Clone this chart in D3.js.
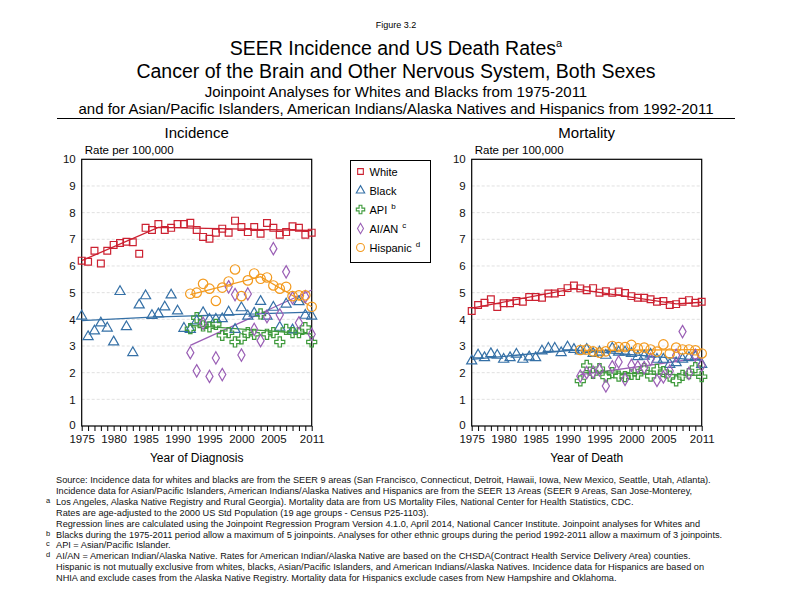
<!DOCTYPE html>
<html>
<head>
<meta charset="utf-8">
<script src="https://cdn.jsdelivr.net/npm/d3@7"></script>
<style>
  body { margin: 0; background: #fff; }
  svg { font-family: "Liberation Sans", Arial, sans-serif; }
  .foot { font-family: "Liberation Sans Narrow", "Liberation Sans", Arial, sans-serif; font-size: 9.2px; fill: #111; }
</style>
</head>
<body>
<div id="chart"></div>
<script>
// years
var years = d3.range(1975, 2012);
var years92 = d3.range(1992, 2012);
var yTicks = [0, 1, 2, 3, 4, 5, 6, 7, 8, 9, 10];
var xLabels = [1975, 1980, 1985, 1990, 1995, 2000, 2005, 2011];

// incidence (1975-2011 for white/black, 1992-2011 for others)
var whiteInc = [6.2, 6.16, 6.57, 6.09, 6.57, 6.79, 6.86, 6.91, 6.89, 6.46, 7.43, 7.35, 7.57, 7.35, 7.43, 7.57, 7.57,
  7.62, 7.35, 7.09, 7.02, 7.25, 7.4, 7.25, 7.7, 7.46, 7.27, 7.46, 7.21, 7.61, 7.43, 7.17, 7.27, 7.49, 7.43, 7.17, 7.25];
var blackInc = [4.12, 3.35, 3.56, 3.86, 3.67, 3.15, 5.04, 3.72, 2.75, 4.54, 4.88, 4.14, 4.2, 4.46, 4.91, 4.31, 3.66,
  3.62, 3.94, 4.25, 4.0, 4.0, 4.02, 4.27, 3.62, 4.43, 4.12, 4.23, 4.67, 4.12, 4.45, 3.7, 4.57, 3.6, 4.66, 4.15, 4.12];
var apiInc = [3.65, 4.06, 3.75, 3.72, 3.81, 3.4, 3.5, 3.15, 3.27, 3.5, 3.44, 4.2, 3.44, 3.5, 3.15, 3.62, 3.5, 3.5, 3.69, 3.15];
var aianInc = [2.75, 2.07, 3.85, 1.86, 2.55, 1.93, 5.22, 4.93, 2.66, 4.95, 3.62, 3.2, 4.1, 6.65, 4.17, 5.78, 4.8, 3.87, 4.85, 3.44];
var hispInc = [4.96, 5.0, 5.33, 5.15, 4.69, 5.19, 5.42, 5.87, 4.87, 5.46, 5.72, 5.52, 5.57, 5.27, 5.15, 5.22, 4.87, 4.9, 4.9, 4.47];

// mortality
var whiteMort = [4.31, 4.54, 4.62, 4.75, 4.46, 4.6, 4.6, 4.69, 4.66, 4.84, 4.84, 4.81, 4.97, 4.97, 5.02, 5.17, 5.27,
  5.16, 5.09, 5.17, 5.0, 5.05, 5.0, 5.04, 4.99, 4.87, 4.81, 4.81, 4.75, 4.66, 4.69, 4.54, 4.57, 4.66, 4.72, 4.62, 4.66];
var blackMort = [2.44, 2.66, 2.56, 2.71, 2.65, 2.5, 2.56, 2.69, 2.5, 2.59, 2.56, 2.81, 2.91, 2.91, 2.75, 2.96, 2.87,
  2.81, 2.87, 2.72, 2.77, 2.65, 2.91, 2.77, 2.77, 2.72, 2.6, 2.62, 2.69, 2.5, 2.5, 2.31, 2.37, 2.5, 2.56, 2.6, 2.31];
var apiMort = [1.69, 2.27, 1.97, 2.15, 1.84, 2.0, 1.87, 1.85, 1.94, 1.94, 2.15, 1.87, 2.12, 2.04, 1.87, 1.69, 1.9, 1.96, 2.19, 1.85];
var aianMort = [1.87, 2.0, 2.02, 2.1, 1.5, 2.22, 2.4, 1.75, 2.27, 2.22, 2.19, 2.5, 1.71, 1.84, 2.06, 2.65, 3.54, 1.97, 2.65, 2.27];
var hispMort = [2.85, 2.87, 2.8, 2.75, 2.8, 3.0, 2.96, 2.96, 3.04, 2.91, 2.94, 2.87, 2.79, 3.06, 2.72, 2.94, 2.87, 2.87, 2.84, 2.72];

// joinpoint fitted lines [year, rate]
var whiteIncFit = [[1975, 6.2], [1987, 7.45], [2011, 7.33]];
var blackIncFit = [[1975, 3.95], [1986, 4.08], [2011, 4.27]];
var apiIncFit = [[1992, 3.77], [2011, 3.45]];
var aianIncFit = [[1992, 3.02], [2011, 5.1]];
var hispIncFit = [[1992, 4.93], [2003, 5.6], [2011, 4.47]];
var whiteMortFit = [[1975, 4.42], [1991, 5.15], [2007, 4.58], [2011, 4.64]];
var blackMortFit = [[1975, 2.5], [1991, 2.85], [2011, 2.46]];
var apiMortFit = [[1992, 2.02], [2011, 1.9]];
var aianMortFit = [[1992, 1.93], [2011, 2.55]];
var hispMortFit = [[1992, 2.83], [2011, 2.86]];

var groups = ["White", "Black", "API", "AI/AN", "Hispanic"];
var supers = ["", "", "b", "c", "d"];
var colors = ["#cc2131", "#3570a6", "#3f9a3c", "#9a5fb5", "#f39a1e"];
var symbols = [d3.symbolSquare, d3.symbolTriangle, d3.symbolCross, d3.symbolDiamond, d3.symbolCircle];
var symSizes = [46, 44, 56, 44, 70];

var footLines = [
  "Source:  Incidence data for whites and blacks are from the SEER 9 areas (San Francisco, Connecticut, Detroit, Hawaii, Iowa, New Mexico, Seattle, Utah, Atlanta).",
  "Incidence data for Asian/Pacific Islanders, American Indians/Alaska Natives and Hispanics are from the SEER 13 Areas (SEER 9 Areas, San Jose-Monterey,",
  "Los Angeles, Alaska Native Registry and Rural Georgia).  Mortality data are from US Mortality Files, National Center for Health Statistics, CDC.",
  "Rates are age-adjusted to the 2000 US Std Population (19 age groups - Census P25-1103).",
  "Regression lines are calculated using the Joinpoint Regression Program Version 4.1.0, April 2014, National Cancer Institute.  Joinpoint analyses for Whites and",
  "Blacks during the 1975-2011 period allow a maximum of 5 joinpoints. Analyses for other ethnic groups during the period 1992-2011 allow a maximum of 3 joinpoints.",
  "API = Asian/Pacific Islander.",
  "AI/AN = American Indian/Alaska Native.  Rates for American Indian/Alaska Native are based on the CHSDA(Contract Health Service Delivery Area) counties.",
  "Hispanic is not mutually exclusive from whites, blacks, Asian/Pacific Islanders, and American Indians/Alaska Natives.  Incidence data for Hispanics are based on",
  "NHIA and exclude cases from the Alaska Native Registry.  Mortality data for Hispanics exclude cases from New Hampshire and Oklahoma."
];
var footMarks = ["", "", "a", "", "", "b", "c", "d", "", ""];

var W = 792, H = 612;
var svg = d3.select("#chart").append("svg").attr("width", W).attr("height", H);

// titles
svg.append("text").attr("x", 396).attr("y", 28).attr("text-anchor", "middle")
  .style("font-size", "9px").text("Figure 3.2");
var t1 = svg.append("text").attr("x", 396).attr("y", 55).attr("text-anchor", "middle").style("font-size", "19.5px");
t1.append("tspan").text("SEER Incidence and US Death Rates");
t1.append("tspan").attr("dy", -8).style("font-size", "11px").text("a");
svg.append("text").attr("x", 396).attr("y", 78).attr("text-anchor", "middle").style("font-size", "19.5px")
  .text("Cancer of the Brain and Other Nervous System, Both Sexes");
svg.append("text").attr("x", 396).attr("y", 97).attr("text-anchor", "middle").style("font-size", "15px")
  .text("Joinpoint Analyses for Whites and Blacks from 1975-2011");
svg.append("text").attr("x", 396).attr("y", 114).attr("text-anchor", "middle").style("font-size", "15px")
  .text("and for Asian/Pacific Islanders, American Indians/Alaska Natives and Hispanics from 1992-2011");
svg.append("line").attr("x1", 57).attr("x2", 735).attr("y1", 118.5).attr("y2", 118.5)
  .attr("stroke", "#000").attr("stroke-width", 1.2);

function panel(left, title, xTitle, series, fits) {
  var width = 230, top = 159.3, height = 266.7;
  var g = svg.append("g").attr("transform", "translate(" + left + "," + top + ")");
  var x = d3.scaleLinear().domain([1975, 2011]).range([0, width]);
  var y = d3.scaleLinear().domain([0, 10]).range([height, 0]);

  // grid
  g.selectAll(".grid").data(yTicks.slice(1, -1)).enter().append("line")
    .attr("x1", 0).attr("x2", width)
    .attr("y1", function(d) { return y(d); }).attr("y2", function(d) { return y(d); })
    .attr("stroke", "#d8d8d8").attr("stroke-dasharray", "3,2").attr("stroke-width", 0.8);

  // frame
  g.append("rect").attr("width", width).attr("height", height)
    .attr("fill", "none").attr("stroke", "#000").attr("stroke-width", 1.2);

  // axes
  var xa = g.append("g").attr("transform", "translate(0," + height + ")")
    .call(d3.axisBottom(x).tickValues(years).tickSize(5).tickPadding(4)
      .tickFormat(function(d) { return xLabels.indexOf(d) >= 0 ? d : ""; }));
  xa.select(".domain").remove();
  xa.selectAll("line").attr("stroke", "#000");
  xa.selectAll("text").style("font-size", "11.5px").attr("fill", "#111").attr("font-family", "Liberation Sans, Arial, sans-serif");

  var ya = g.append("g").call(d3.axisLeft(y).tickValues(yTicks).tickSize(0).tickPadding(6));
  ya.select(".domain").remove();
  ya.selectAll("text").style("font-size", "11.5px").attr("fill", "#111").attr("font-family", "Liberation Sans, Arial, sans-serif")
    .attr("dy", function(d) { return d === 0 ? "0.2em" : "0.32em"; });

  g.append("text").attr("x", 3).attr("y", -5).style("font-size", "11.5px").text("Rate per 100,000");
  g.append("text").attr("x", width / 2).attr("y", -21).attr("text-anchor", "middle").style("font-size", "15px").text(title);
  g.append("text").attr("x", width / 2).attr("y", height + 36).attr("text-anchor", "middle").style("font-size", "12px").text(xTitle);

  var line = d3.line().x(function(d) { return x(d[0]); }).y(function(d) { return y(d[1]); });

  series.forEach(function(s, i) {
    g.append("path").datum(fits[i]).attr("d", line)
      .attr("fill", "none").attr("stroke", colors[i]).attr("stroke-width", 1.3);
  });
  series.forEach(function(s, i) {
    var yrs = s.length === years.length ? years : years92;
    g.selectAll(".pt" + i).data(s).enter().append("path")
      .attr("d", d3.symbol().type(symbols[i]).size(symSizes[i]))
      .attr("transform", function(d, j) { return "translate(" + x(yrs[j]) + "," + y(d) + ")"; })
      .attr("fill", "none").attr("stroke", colors[i]).attr("stroke-width", 1.2);
  });
}

panel(81.7, "Incidence", "Year of Diagnosis",
  [whiteInc, blackInc, apiInc, aianInc, hispInc],
  [whiteIncFit, blackIncFit, apiIncFit, aianIncFit, hispIncFit]);
panel(471.7, "Mortality", "Year of Death",
  [whiteMort, blackMort, apiMort, aianMort, hispMort],
  [whiteMortFit, blackMortFit, apiMortFit, aianMortFit, hispMortFit]);

// legend
var lg = svg.append("g").attr("transform", "translate(350.5,160.5)");
lg.append("rect").attr("width", 80).attr("height", 102).attr("fill", "#fff").attr("stroke", "#000").attr("stroke-width", 1);
groups.forEach(function(name, i) {
  var row = lg.append("g").attr("transform", "translate(10," + (11 + i * 19) + ")");
  row.append("path").attr("d", d3.symbol().type(symbols[i]).size(symSizes[i] * 0.7))
    .attr("fill", "none").attr("stroke", colors[i]).attr("stroke-width", 1.1);
  var t = row.append("text").attr("x", 9).attr("y", 4).style("font-size", "11px").text(name);
  if (supers[i]) t.append("tspan").attr("dx", 4).attr("dy", -5).style("font-size", "8px").text(supers[i]);
});

// footnotes
footLines.forEach(function(s, i) {
  var yy = 483 + i * 10.9;
  svg.append("text").attr("class", "foot").attr("x", 56).attr("y", yy).text(s);
  if (footMarks[i]) svg.append("text").attr("class", "foot").attr("x", 46).attr("y", yy - 2)
    .style("font-size", "7.5px").text(footMarks[i]);
});
</script>
</body>
</html>
